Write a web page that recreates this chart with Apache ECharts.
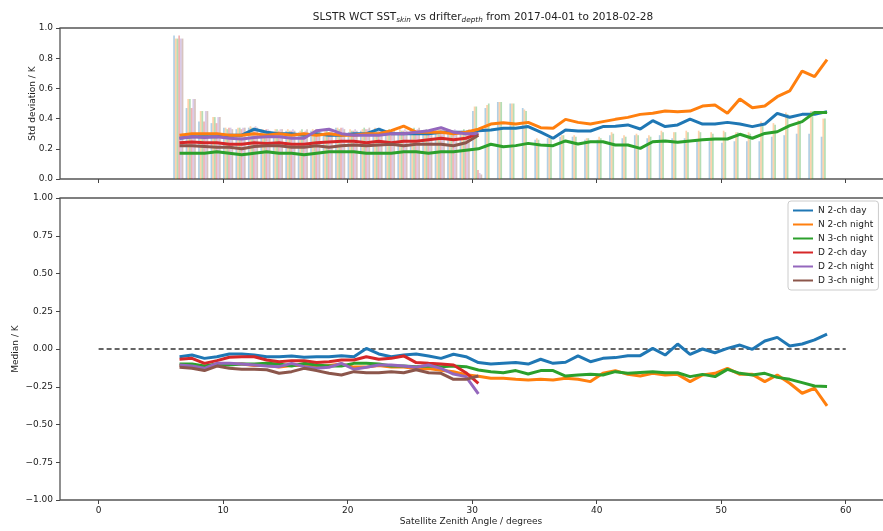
<!DOCTYPE html>
<html><head><meta charset="utf-8">
<script src="https://cdn.jsdelivr.net/npm/echarts@6/dist/echarts.min.js"></script>
<style>html,body{margin:0;padding:0;background:#fff}#c{width:883px;height:531px}</style>
</head><body><div id="c"></div>
<script>
// ---------------- DATA ----------------
const seriesNames = ['N 2-ch day', 'N 2-ch night', 'N 3-ch night', 'D 2-ch day', 'D 2-ch night', 'D 3-ch night'];
const xTickValues = [0, 10, 20, 30, 40, 50, 60];
const stdTickValues = [0, 0.2, 0.4, 0.6, 0.8, 1.0];
const medianTickValues = [-1, -0.75, -0.5, -0.25, 0, 0.25, 0.5, 0.75, 1];

// Satellite zenith angle of binned line points
const anglesN = [6.5,7.5,8.5,9.5,10.5,11.5,12.5,13.5,14.5,15.5,16.5,17.5,18.5,19.5,20.5,21.5,22.5,23.5,24.5,25.5,26.5,27.5,28.5,29.5,30.5,
  31.5,32.5,33.5,34.5,35.5,36.5,37.5,38.5,39.5,40.5,41.5,42.5,43.5,44.5,45.5,46.5,47.5,48.5,49.5,50.5,51.5,52.5,53.5,54.5,55.5,56.5,57.5,58.5];
const anglesD = [6.5,7.5,8.5,9.5,10.5,11.5,12.5,13.5,14.5,15.5,16.5,17.5,18.5,19.5,20.5,21.5,22.5,23.5,24.5,25.5,26.5,27.5,28.5,29.5,30.5];

// Std deviation / K
const stdNDay2 = [.27,.28,.28,.28,.29,.29,.33,.31,.30,.30,.29,.30,.29,.29,.30,.30,.33,.30,.30,.30,.30,.31,.31,.31,.32,
  .325,.336,.336,.347,.31,.27,.325,.318,.318,.347,.35,.358,.331,.386,.347,.358,.397,.364,.364,.375,.364,.347,.364,.435,.409,.428,.428,.446];
const stdNNight2 = [.29,.30,.30,.30,.29,.29,.30,.29,.30,.29,.30,.29,.30,.29,.29,.30,.30,.32,.35,.31,.31,.31,.30,.31,.33,
  .364,.373,.364,.375,.34,.336,.395,.375,.364,.38,.395,.408,.428,.435,.45,.446,.45,.483,.49,.435,.53,.472,.483,.545,.583,.715,.678,.79];
const stdNNight3 = [.17,.17,.17,.18,.17,.16,.17,.18,.17,.17,.16,.17,.18,.18,.18,.17,.17,.17,.18,.18,.17,.18,.18,.19,.20,
  .23,.214,.221,.236,.225,.221,.252,.232,.247,.247,.225,.225,.203,.247,.252,.243,.252,.26,.265,.265,.296,.27,.302,.313,.353,.38,.44,.44];
const stdDDay2 = [.24,.245,.24,.24,.23,.23,.24,.235,.24,.23,.23,.24,.245,.25,.25,.24,.25,.24,.25,.25,.26,.27,.26,.27,.30];
const stdDNight2 = [.27,.28,.275,.28,.27,.265,.275,.28,.28,.27,.27,.32,.33,.30,.29,.29,.29,.30,.30,.31,.32,.34,.31,.30,.30];
const stdDNight3 = [.22,.22,.215,.21,.21,.20,.215,.22,.22,.21,.21,.22,.21,.22,.225,.22,.225,.23,.22,.23,.23,.23,.22,.24,.29];

// Median / K
const medNDay2 = [-.051,-.04,-.062,-.051,-.033,-.033,-.04,-.051,-.051,-.046,-.055,-.051,-.051,-.044,-.051,.004,-.033,-.051,-.04,-.033,-.046,-.062,-.035,-.051,-.09,
  -.10,-.095,-.09,-.10,-.068,-.095,-.088,-.046,-.084,-.062,-.057,-.044,-.044,.004,-.04,.033,-.035,0,-.025,.004,.026,-.002,.053,.077,.02,.033,.06,.099];
const medNNight2 = [-.11,-.11,-.12,-.10,-.10,-.10,-.11,-.11,-.12,-.11,-.11,-.12,-.11,-.10,-.12,-.12,-.11,-.12,-.12,-.13,-.13,-.14,-.15,-.17,-.18,
  -.194,-.194,-.2,-.205,-.2,-.205,-.194,-.2,-.216,-.161,-.143,-.168,-.179,-.161,-.172,-.168,-.216,-.172,-.161,-.128,-.168,-.168,-.216,-.172,-.227,-.293,-.26,-.377];
const medNNight3 = [-.099,-.099,-.113,-.099,-.106,-.10,-.099,-.095,-.10,-.113,-.095,-.106,-.113,-.113,-.095,-.095,-.099,-.113,-.113,-.117,-.113,-.117,-.113,-.117,-.139,
  -.15,-.157,-.143,-.166,-.143,-.143,-.179,-.172,-.168,-.172,-.15,-.161,-.155,-.15,-.157,-.157,-.183,-.168,-.183,-.135,-.161,-.172,-.161,-.188,-.201,-.223,-.245,-.249];
const medDDay2 = [-.068,-.062,-.095,-.077,-.055,-.051,-.051,-.073,-.084,-.077,-.077,-.09,-.084,-.073,-.073,-.051,-.068,-.062,-.046,-.09,-.095,-.099,-.106,-.157,-.227];
const medDNight2 = [-.106,-.113,-.128,-.095,-.095,-.099,-.106,-.113,-.117,-.095,-.117,-.128,-.121,-.095,-.134,-.121,-.106,-.106,-.113,-.121,-.106,-.128,-.166,-.183,-.298];
const medDNight3 = [-.121,-.128,-.143,-.113,-.128,-.134,-.134,-.137,-.161,-.15,-.128,-.143,-.161,-.172,-.15,-.157,-.157,-.15,-.157,-.137,-.157,-.161,-.201,-.201,-.179];

// Relative sample counts per 1-degree bin (pale bars in upper panel)
const histBinsN = [6,7,8,9,10,11,12,13,14,15,16,17,18,19,20,21,22,23,24,25,26,27,28,29,30,31,32,33,34,35,36,37,38,39,40,41,42,43,44,45,46,47,48,49,50,51,52,53,54,55,56,57,58];
const histBinsD = [6,7,8,9,10,11,12,13,14,15,16,17,18,19,20,21,22,23,24,25,26,27,28,29,30];
const histNDay2 = [.95,.47,.38,.37,.34,.33,.34,.33,.31,.32,.31,.32,.30,.34,.31,.32,.32,.30,.31,.32,.30,.33,.32,.31,.45,.47,.51,.50,.47,.26,.27,.28,.28,.26,.26,.29,.27,.29,.27,.29,.27,.27,.26,.25,.24,.25,.25,.25,.28,.29,.30,.30,.28];
const histNNight2 = [.93,.53,.45,.41,.34,.34,.35,.33,.33,.33,.32,.33,.32,.34,.33,.33,.34,.32,.33,.33,.32,.34,.33,.32,.48,.49,.51,.50,.46,.27,.28,.29,.29,.27,.28,.31,.29,.30,.29,.32,.31,.32,.32,.31,.32,.31,.31,.38,.37,.44,.39,.45,.40];
const histNNight3 = [.93,.53,.45,.41,.33,.34,.34,.32,.33,.32,.33,.32,.33,.33,.32,.34,.33,.33,.32,.34,.33,.33,.32,.33,.48,.50,.51,.50,.45,.26,.27,.29,.28,.27,.27,.30,.28,.29,.28,.31,.31,.31,.31,.30,.31,.31,.30,.37,.36,.43,.38,.45,.40];
const histDDay2 = [.95,.47,.38,.37,.34,.33,.34,.33,.32,.32,.31,.33,.31,.34,.32,.33,.32,.31,.32,.32,.31,.33,.32,.31,.06];
const histDNight2 = [.93,.53,.45,.41,.34,.34,.35,.33,.33,.33,.32,.33,.32,.34,.33,.33,.34,.32,.33,.33,.32,.34,.33,.32,.04];
const histDNight3 = [.93,.53,.45,.41,.33,.34,.34,.32,.33,.32,.33,.32,.33,.33,.32,.34,.33,.33,.32,.34,.33,.33,.32,.33,.03];

// ---------------- CHART ----------------
const colors = ['#1f77b4', '#ff7f0e', '#2ca02c', '#d62728', '#9467bd', '#8c564b'];
const FONT = 'DejaVu Sans';
const TXT = '#222';
const BIN_GROUP_OFFSET = 0.4; // bar groups occupy the first 0.8 deg of each bin

const stdSets = [[anglesN, stdNDay2], [anglesN, stdNNight2], [anglesN, stdNNight3], [anglesD, stdDDay2], [anglesD, stdDNight2], [anglesD, stdDNight3]];
const medSets = [[anglesN, medNDay2], [anglesN, medNNight2], [anglesN, medNNight3], [anglesD, medDDay2], [anglesD, medDNight2], [anglesD, medDNight3]];
const histSets = [[histBinsN, histNDay2], [histBinsN, histNNight2], [histBinsN, histNNight3], [histBinsD, histDDay2], [histBinsD, histDNight2], [histBinsD, histDNight3]];
const pair = (xs, ys) => xs.map((x, i) => [x, ys[i]]);

const series = [];
histSets.forEach(([bins, vals], i) => {
  series.push({
    type: 'bar', name: seriesNames[i] + ' count', xAxisIndex: 0, yAxisIndex: 0,
    data: bins.map((b, k) => [b + BIN_GROUP_OFFSET, vals[k]]),
    barWidth: 1.7, barGap: '0%', silent: true,
    itemStyle: { color: colors[i], opacity: 0.35 }
  });
});
stdSets.forEach(([xs, ys], i) => {
  series.push({
    type: 'line', name: seriesNames[i], xAxisIndex: 0, yAxisIndex: 0,
    data: pair(xs, ys), symbol: 'none', showSymbol: false,
    lineStyle: { color: colors[i], width: 3 }, itemStyle: { color: colors[i] }
  });
});
series.push({
  type: 'line', name: 'zero', xAxisIndex: 1, yAxisIndex: 1, data: [[0, 0], [60, 0]],
  symbol: 'none', silent: true, lineStyle: { color: '#333', width: 1.4, type: [5, 3] }
});
medSets.forEach(([xs, ys], i) => {
  series.push({
    type: 'line', name: seriesNames[i], xAxisIndex: 1, yAxisIndex: 1,
    data: pair(xs, ys), symbol: 'none', showSymbol: false,
    lineStyle: { color: colors[i], width: 3 }, itemStyle: { color: colors[i] }
  });
});

const tickStyle = { show: true, length: 4, inside: false, lineStyle: { color: '#444', width: 1 } };
const noLine = { show: false, onZero: false };
const labelStyle = { fontFamily: FONT, fontSize: 9, color: TXT };
const medianLabel = v => (v < 0 ? '\u2212' : '') + Math.abs(v).toFixed(2);
const gridCommon = { left: 60, width: 843, show: true, borderColor: '#555', borderWidth: 1.3,
  backgroundColor: 'transparent', containLabel: false, outerBoundsMode: 'none' };

const option = {
  animation: false,
  backgroundColor: '#fff',
  textStyle: { fontFamily: FONT },
  title: {
    text: '{m|SLSTR WCT SST}{s|skin}{m| vs drifter}{s|depth}{m| from 2017-04-01 to 2018-02-28}',
    left: 478, top: 7, textAlign: 'center',
    textStyle: {
      fontWeight: 'normal',
      rich: {
        m: { fontFamily: FONT, fontSize: 10.5, fontWeight: 'normal', color: TXT, lineHeight: 12, verticalAlign: 'top' },
        s: { fontFamily: FONT, fontSize: 7.3, fontWeight: 'normal', fontStyle: 'italic', color: TXT, lineHeight: 8, padding: [5, 0, 0, 0], verticalAlign: 'top' }
      }
    }
  },
  legend: {
    data: seriesNames, orient: 'vertical', left: 788, top: 201,
    padding: [4, 5, 4, 5], itemWidth: 20, itemHeight: 2, itemGap: 3, icon: 'rect',
    backgroundColor: '#fff', borderColor: '#ccc', borderWidth: 1, borderRadius: 3,
    selectedMode: false,
    textStyle: { fontFamily: FONT, fontSize: 9, color: TXT, lineHeight: 11 }
  },
  grid: [
    Object.assign({ top: 28, height: 151 }, gridCommon),
    Object.assign({ top: 198, height: 302 }, gridCommon)
  ],
  xAxis: [
    { gridIndex: 0, type: 'value', min: -3.1, max: 64.6,
      axisLine: noLine, splitLine: { show: false },
      axisTick: Object.assign({ customValues: xTickValues }, tickStyle),
      axisLabel: { show: false } },
    { gridIndex: 1, type: 'value', min: -3.1, max: 64.6,
      axisLine: noLine, splitLine: { show: false },
      axisTick: Object.assign({ customValues: xTickValues }, tickStyle),
      axisLabel: Object.assign({ customValues: xTickValues, margin: 6 }, labelStyle),
      name: 'Satellite Zenith Angle / degrees', nameLocation: 'middle', nameGap: 17, nameMoveOverlap: false,
      nameTextStyle: { fontFamily: FONT, fontSize: 9, color: TXT, padding: [0, 21, 0, 0] } }
  ],
  yAxis: [
    { gridIndex: 0, type: 'value', min: 0, max: 1, interval: 0.2,
      axisLine: noLine, splitLine: { show: false }, axisTick: tickStyle,
      axisLabel: Object.assign({ margin: 7, formatter: v => v.toFixed(1), customValues: stdTickValues }, labelStyle),
      name: 'Std deviation / K', nameLocation: 'middle', nameGap: 23, nameMoveOverlap: false,
      nameTextStyle: { fontFamily: FONT, fontSize: 9, color: TXT } },
    { gridIndex: 1, type: 'value', min: -1, max: 1, interval: 0.25,
      axisLine: noLine, splitLine: { show: false }, axisTick: tickStyle,
      axisLabel: Object.assign({ margin: 7, formatter: medianLabel, customValues: medianTickValues }, labelStyle),
      name: 'Median / K', nameLocation: 'middle', nameGap: 40, nameMoveOverlap: false,
      nameTextStyle: { fontFamily: FONT, fontSize: 9, color: TXT } }
  ],
  series: series
};

const chart = echarts.init(document.getElementById('c'), null, { renderer: 'canvas' });
chart.setOption(option);
</script>
</body></html>
